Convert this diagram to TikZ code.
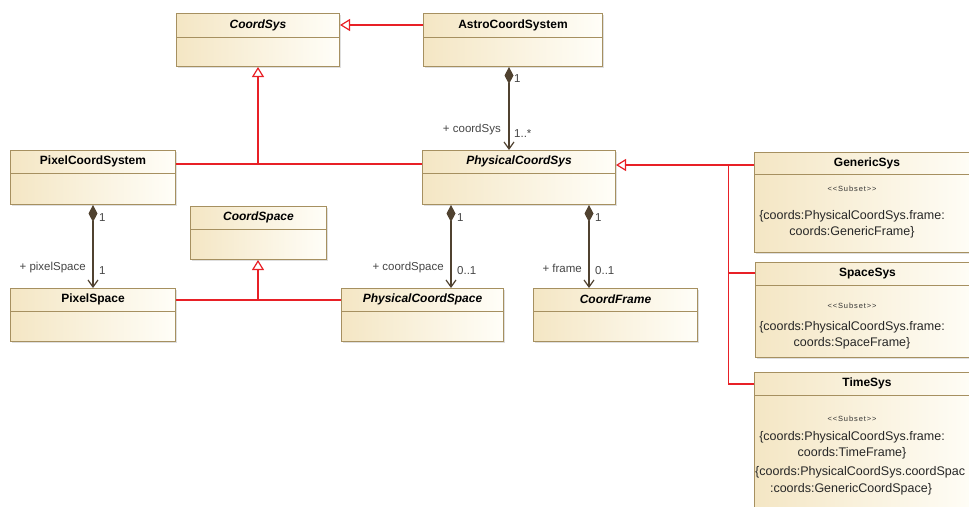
\documentclass[tikz,border=0pt]{standalone}
\usepackage{fontspec}
\setmainfont{Liberation Sans}
\usetikzlibrary{arrows.meta,shadows}
\definecolor{bord}{RGB}{166,144,96}
\definecolor{fillL}{RGB}{244,230,196}
\definecolor{fillR}{RGB}{255,254,248}
\definecolor{gen}{RGB}{232,32,38}
\definecolor{comp}{RGB}{80,66,48}
\definecolor{lbl}{RGB}{70,70,70}
\tikzset{
  cls/.style={draw=bord, line width=1pt, left color=fillL, right color=fillR, inner sep=0pt,
    drop shadow={shadow xshift=1.5pt, shadow yshift=-1.5pt, opacity=0.25}},
  divline/.style={draw=bord, line width=0.9pt},
  ttl/.style={font=\fontsize{12}{14}\selectfont\bfseries, inner sep=0pt},
  attl/.style={font=\fontsize{12}{14}\selectfont\bfseries\itshape, inner sep=0pt},
  genline/.style={draw=gen, line width=1.4pt},
  genarrow/.style={genline, -{Triangle[open, length=10pt, width=12pt, fill=white, line width=1.2pt]}},
  compline/.style={draw=comp, line width=1.2pt, {Diamond[length=17pt, width=9pt, fill=comp]}-{Straight Barb[length=7pt, width=10pt]}},
  mlab/.style={font=\fontsize{11.5}{13}\selectfont, text=lbl, inner sep=0pt},
  body/.style={font=\fontsize{12.5}{16}\selectfont, text=black!85, inner sep=0pt, align=center},
  stereo/.style={font=\fontsize{7.5}{8}\selectfont\addfontfeature{LetterSpace=12}, text=black!80, inner sep=0pt},
}
% name, x, y, w, h, header height, title style, title
\newcommand\umlcls[8]{%
  \node[cls, anchor=north west, minimum width=#4pt, minimum height=#5pt] (#1) at (#2,#3) {};
  \draw[divline] ([yshift=-#6pt]#1.north west) -- ([yshift=-#6pt]#1.north east);
  \node[#7] (#1-t) at ([yshift=-#6pt*0.5]#1.north) {#8};
}
\newcommand\stereotxt{{<}{<}Subset{>}{>}}
\begin{document}
\begin{tikzpicture}[x=1pt, y=-1pt]
\useasboundingbox (0,0) rectangle (969,506);
\fill[white] (0,0) rectangle (969,506);

\umlcls{CoordSys}{176}{13}{163}{53}{24}{attl}{CoordSys}
\umlcls{Astro}{423}{13}{179}{53}{24}{ttl}{AstroCoordSystem}
\umlcls{PixSys}{10}{150}{165}{54}{23}{ttl}{PixelCoordSystem}
\umlcls{PhysSys}{422}{150}{193}{54}{23}{attl}{PhysicalCoordSys}
\umlcls{CoordSpace}{190}{206}{136}{53}{23}{attl}{CoordSpace}
\umlcls{PixSpace}{10}{288}{165}{53}{23}{ttl}{PixelSpace}
\umlcls{PhysSpace}{341}{288}{162}{53}{23}{attl}{PhysicalCoordSpace}
\umlcls{CoordFrame}{533}{288}{164}{53}{23}{attl}{CoordFrame}
\umlcls{GenSys}{754}{152}{225}{100}{22}{ttl}{GenericSys}
\umlcls{SpaceSys}{755}{262}{224}{95}{23}{ttl}{SpaceSys}
\umlcls{TimeSys}{754}{372}{225}{145}{23}{ttl}{TimeSys}

% body texts
\node[stereo] (gs-st) at (852,189) {\stereotxt};
\node[body] (gs-b) at (852,224) {\{coords:PhysicalCoordSys.frame:\\coords:GenericFrame\}};
\node[stereo] (ss-st) at (852,306) {\stereotxt};
\node[body] (ss-b) at (852,335) {\{coords:PhysicalCoordSys.frame:\\coords:SpaceFrame\}};
\node[stereo] (ts-st) at (852,419) {\stereotxt};
\node[body] (ts-b) at (852,445) {\{coords:PhysicalCoordSys.frame:\\coords:TimeFrame\}};
\node[body, anchor=west] (ts-c1) at (755,472) {\{coords:PhysicalCoordSys.coordSpac};
\node[body] (ts-c2) at (851,489) {:coords:GenericCoordSpace\}};

% generalizations
\draw[genarrow] (Astro.west |- Astro-t) -- (CoordSys.east |- Astro-t);

\coordinate (j1) at (258,164);
\draw[genline] (PixSys.east |- j1) -- (j1);
\draw[genline] (j1) -- (PhysSys.west |- j1);
\draw[genarrow] (j1) -- (j1 |- CoordSys.south);

\coordinate (j2) at (258,300);
\draw[genline] (PixSpace.east |- j2) -- (j2);
\draw[genline] (j2) -- (PhysSpace.west |- j2);
\draw[genarrow] (j2) -- (j2 |- CoordSpace.south);

\coordinate (b1) at (728.5,165);
\coordinate (b2) at (728.5,273);
\coordinate (b3) at (728.5,384);
\draw[genline] (GenSys.west |- b1) -- (b1);
\draw[genline] (SpaceSys.west |- b2) -- (b2);
\draw[genline] (TimeSys.west |- b3) -- (b3) -- (b1);
\draw[genarrow] (b1) -- (PhysSys.east |- b1);

% compositions
\coordinate (c1) at ([xshift=-4pt]Astro.south);
\draw[compline] (c1) -- (c1 |- PhysSys.north);
\node[mlab, anchor=west] (c1a) at (514,79) {1};
\node[mlab, anchor=east] (c1b) at (501,130) {+ coordSys};
\node[mlab, anchor=west] (c1c) at (514,134) {1..*};

\draw[compline] (PixSys.south) -- (PixSys.south |- PixSpace.north);
\node[mlab, anchor=west] (c2a) at (99,218) {1};
\node[mlab, anchor=east] (c2b) at (86,268) {+ pixelSpace};
\node[mlab, anchor=west] (c2c) at (99,271) {1};

\coordinate (c3) at ([xshift=29pt]PhysSys.south west);
\draw[compline] (c3) -- (c3 |- PhysSpace.north);
\node[mlab, anchor=west] (c3a) at (457,218) {1};
\node[mlab, anchor=east] (c3b) at (444,268) {+ coordSpace};
\node[mlab, anchor=west] (c3c) at (457,271) {0..1};

\coordinate (c4) at ([xshift=167pt]PhysSys.south west);
\draw[compline] (c4) -- (c4 |- CoordFrame.north);
\node[mlab, anchor=west] (c4a) at (595,218) {1};
\node[mlab, anchor=east] (c4b) at (582,268) {+ frame};
\node[mlab, anchor=west] (c4c) at (595,271) {0..1};
\end{tikzpicture}
\end{document}
